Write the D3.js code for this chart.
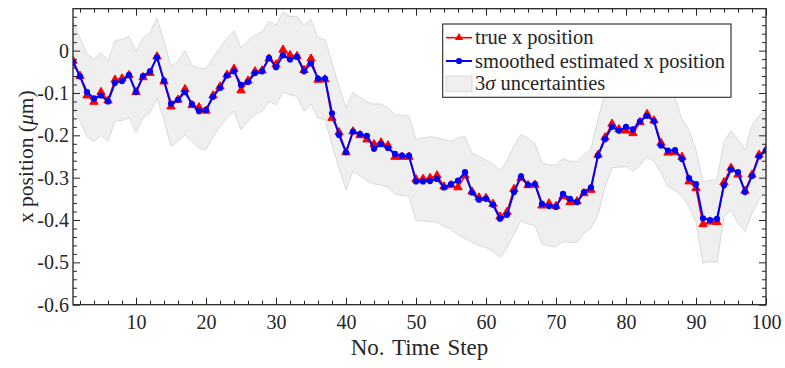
<!DOCTYPE html>
<html><head><meta charset="utf-8">
<script src="https://cdn.jsdelivr.net/npm/d3@7"></script>
<style>
body{margin:0;background:#fff}
svg{display:block}
text{font-family:"Liberation Serif","Times New Roman",serif;fill:#262626}
</style>
</head><body>
<svg id="c" width="785" height="368"></svg>
<script>
// ---- data ----
const steps = d3.range(1, 101);
const trueX = [
-0.024,-0.060,-0.106,-0.121,-0.098,-0.118,-0.069,-0.066,-0.058,-0.098,
-0.063,-0.053,-0.014,-0.073,-0.132,-0.116,-0.091,-0.129,-0.134,-0.142,
-0.106,-0.085,-0.057,-0.043,-0.094,-0.071,-0.049,-0.047,-0.019,-0.033,
 0.002,-0.011,-0.013,-0.046,-0.019,-0.069,-0.068,-0.159,-0.193,-0.240,
-0.191,-0.200,-0.210,-0.221,-0.217,-0.224,-0.251,-0.251,-0.251,-0.304,
-0.303,-0.301,-0.295,-0.321,-0.318,-0.323,-0.295,-0.333,-0.347,-0.348,
-0.362,-0.392,-0.381,-0.327,-0.301,-0.318,-0.317,-0.366,-0.361,-0.367,
-0.344,-0.358,-0.356,-0.337,-0.329,-0.246,-0.205,-0.173,-0.186,-0.189,
-0.195,-0.169,-0.150,-0.165,-0.218,-0.241,-0.240,-0.251,-0.309,-0.325,
-0.410,-0.404,-0.405,-0.311,-0.277,-0.293,-0.331,-0.293,-0.246,-0.235];
const smoothX = [
-0.027,-0.061,-0.098,-0.113,-0.106,-0.120,-0.076,-0.072,-0.058,-0.098,
-0.060,-0.049,-0.016,-0.071,-0.125,-0.116,-0.098,-0.126,-0.143,-0.140,
-0.109,-0.088,-0.059,-0.049,-0.081,-0.074,-0.053,-0.049,-0.017,-0.039,
-0.011,-0.021,-0.015,-0.049,-0.030,-0.066,-0.066,-0.148,-0.199,-0.240,
-0.191,-0.197,-0.201,-0.232,-0.221,-0.230,-0.244,-0.248,-0.248,-0.309,
-0.309,-0.308,-0.303,-0.323,-0.315,-0.307,-0.287,-0.335,-0.352,-0.350,
-0.364,-0.397,-0.388,-0.334,-0.297,-0.317,-0.315,-0.362,-0.367,-0.369,
-0.338,-0.350,-0.358,-0.334,-0.323,-0.248,-0.209,-0.180,-0.189,-0.180,
-0.186,-0.167,-0.154,-0.167,-0.224,-0.236,-0.235,-0.256,-0.301,-0.315,
-0.396,-0.400,-0.397,-0.318,-0.281,-0.287,-0.334,-0.296,-0.250,-0.236];
const upper3s = [
 0.069, 0.030,-0.008,-0.021,-0.005,-0.025, 0.024, 0.026, 0.034,-0.002,
 0.030, 0.042, 0.077, 0.022,-0.037,-0.025, 0.000,-0.035,-0.041,-0.043,
-0.017, 0.006, 0.030, 0.047, 0.006, 0.024, 0.036, 0.044, 0.069, 0.060,
 0.091, 0.081, 0.081, 0.060, 0.073, 0.030, 0.026,-0.029,-0.084,-0.135,
-0.098,-0.110,-0.121,-0.126,-0.126,-0.135,-0.151,-0.153,-0.155,-0.210,
-0.206,-0.203,-0.206,-0.210,-0.214,-0.206,-0.203,-0.242,-0.250,-0.258,
-0.268,-0.284,-0.260,-0.225,-0.197,-0.208,-0.220,-0.265,-0.270,-0.270,
-0.254,-0.262,-0.262,-0.246,-0.232,-0.163,-0.097,-0.073,-0.073,-0.073,
-0.083,-0.069,-0.050,-0.059,-0.080,-0.097,-0.111,-0.163,-0.187,-0.234,
-0.310,-0.307,-0.305,-0.215,-0.189,-0.210,-0.234,-0.177,-0.154,-0.142];
const lower3s = [
-0.137,-0.167,-0.203,-0.214,-0.200,-0.214,-0.167,-0.165,-0.158,-0.192,
-0.159,-0.147,-0.112,-0.163,-0.226,-0.214,-0.199,-0.214,-0.230,-0.234,
-0.203,-0.179,-0.159,-0.143,-0.187,-0.167,-0.151,-0.143,-0.120,-0.128,
-0.098,-0.104,-0.108,-0.143,-0.126,-0.159,-0.163,-0.222,-0.277,-0.329,
-0.285,-0.295,-0.307,-0.315,-0.317,-0.323,-0.339,-0.342,-0.344,-0.402,
-0.402,-0.404,-0.405,-0.415,-0.421,-0.435,-0.443,-0.452,-0.460,-0.465,
-0.474,-0.488,-0.466,-0.433,-0.401,-0.409,-0.414,-0.456,-0.461,-0.463,
-0.451,-0.453,-0.453,-0.431,-0.419,-0.388,-0.321,-0.277,-0.275,-0.274,
-0.285,-0.270,-0.251,-0.262,-0.289,-0.322,-0.330,-0.344,-0.368,-0.404,
-0.502,-0.498,-0.500,-0.392,-0.376,-0.407,-0.427,-0.384,-0.352,-0.329];
const xMajorTicks = [10,20,30,40,50,60,70,80,90,100];
const xMinorTicks = [2,4,6,8,12,14,16,18,22,24,26,28,32,34,36,38,42,44,46,48,52,54,56,58,62,64,66,68,72,74,76,78,82,84,86,88,92,94,96,98];
const yMajorTicks = [-0.6,-0.5,-0.4,-0.3,-0.2,-0.1,0];
const yTickLabels = ["-0.6","-0.5","-0.4","-0.3","-0.2","-0.1","0"];
const yMinorTicks = [-0.58,-0.56,-0.54,-0.52,-0.48,-0.46,-0.44,-0.42,-0.38,-0.36,-0.34,-0.32,-0.28,-0.26,-0.24,-0.22,-0.18,-0.16,-0.14,-0.12,-0.08,-0.06,-0.04,-0.02,0.02,0.04,0.06,0.08];
const legendLabels = ["true x position","smoothed estimated x position","uncertainties"];

// ---- layout ----
const L = 73, R = 766, T = 8.7, B = 304.7;
const AX = "#262626";
const svg = d3.select("#c");
const x = d3.scaleLinear().domain([1, 100]).range([L, R]);
const y = d3.scaleLinear().domain([-0.6, 0.099]).range([B, T]);

svg.append("defs").append("clipPath").attr("id","pc")
  .append("rect").attr("x",L).attr("y",T).attr("width",R-L).attr("height",B-T);

const plot = svg.append("g").attr("clip-path","url(#pc)");

// 3 sigma band
const band = d3.area().x((d,i)=>x(steps[i])).y0((d,i)=>y(lower3s[i])).y1((d,i)=>y(upper3s[i]));
plot.append("path").datum(steps).attr("d", band)
  .attr("fill","#efefef").attr("stroke","#d9d9d9").attr("stroke-width",1);

// true
const lineT = d3.line().x((d,i)=>x(steps[i])).y(d=>y(d));
plot.append("path").datum(trueX).attr("d", lineT)
  .attr("fill","none").attr("stroke","#ff0000").attr("stroke-width",1.6).attr("stroke-linejoin","round");
const tri = d3.symbol(d3.symbolTriangle).size(30);
plot.selectAll(".tri").data(trueX).join("path")
  .attr("transform",(d,i)=>`translate(${x(steps[i])},${y(d)})`)
  .attr("d", tri).attr("fill","#ff0000").attr("stroke","#ff0000").attr("stroke-width",1);

// smoothed
plot.append("path").datum(smoothX).attr("d", lineT)
  .attr("fill","none").attr("stroke","#0000ff").attr("stroke-width",2).attr("stroke-linejoin","round");
plot.selectAll(".dot").data(smoothX).join("circle")
  .attr("cx",(d,i)=>x(steps[i])).attr("cy",d=>y(d)).attr("r",3.1).attr("fill","#0000ff");

// axes
function style(g){
  g.attr("font-size",null).attr("font-family",null);
  g.select(".domain").remove();
  g.selectAll("line").attr("stroke",AX).attr("stroke-width",1);
  g.selectAll("text").attr("font-size","20px").attr("fill",AX);
}
svg.append("g").attr("transform",`translate(0,${B})`)
  .call(d3.axisBottom(x).tickValues(xMajorTicks).tickSize(-7).tickPadding(10).tickFormat(d3.format("d"))).call(style);
svg.append("g").attr("transform",`translate(0,${B})`)
  .call(d3.axisBottom(x).tickValues(xMinorTicks).tickSize(-4).tickFormat("")).call(style);
svg.append("g").attr("transform",`translate(0,${T})`)
  .call(d3.axisTop(x).tickValues(xMajorTicks).tickSize(-7).tickFormat("")).call(style);
svg.append("g").attr("transform",`translate(0,${T})`)
  .call(d3.axisTop(x).tickValues(xMinorTicks).tickSize(-4).tickFormat("")).call(style);
svg.append("g").attr("transform",`translate(${L},0)`)
  .call(d3.axisLeft(y).tickValues(yMajorTicks).tickSize(-7).tickPadding(4)
    .tickFormat((d,i)=>yTickLabels[i])).call(style);
svg.append("g").attr("transform",`translate(${L},0)`)
  .call(d3.axisLeft(y).tickValues(yMinorTicks).tickSize(-4).tickFormat("")).call(style);
svg.append("g").attr("transform",`translate(${R},0)`)
  .call(d3.axisRight(y).tickValues(yMajorTicks).tickSize(-7).tickFormat("")).call(style);
svg.append("g").attr("transform",`translate(${R},0)`)
  .call(d3.axisRight(y).tickValues(yMinorTicks).tickSize(-4).tickFormat("")).call(style);

svg.append("rect").attr("x",L).attr("y",T).attr("width",R-L).attr("height",B-T)
  .attr("fill","none").attr("stroke",AX).attr("stroke-width",1.3);

// titles
svg.append("text").attr("x",(L+R)/2).attr("y",355).attr("text-anchor","middle")
  .attr("font-size","23px").attr("word-spacing","2px").text("No. Time Step");
const yl = svg.append("text").attr("transform",`translate(33,${(T+B)/2}) rotate(-90)`)
  .attr("text-anchor","middle").attr("font-size","21.5px");
yl.append("tspan").text("x position (");
yl.append("tspan").attr("font-style","italic").text("μ");
yl.append("tspan").text("m)");

// legend
const lg = svg.append("g");
lg.append("rect").attr("x",442.7).attr("y",24).attr("width",288.3).attr("height",73.3)
  .attr("fill","#fff").attr("stroke",AX).attr("stroke-width",1.1);
const rows = [37.7, 61, 83.3];
lg.append("line").attr("x1",446).attr("x2",472).attr("y1",rows[0]).attr("y2",rows[0])
  .attr("stroke","#ff0000").attr("stroke-width",1.6);
lg.append("path").attr("transform",`translate(459,${rows[0]})`).attr("d",tri).attr("fill","#ff0000");
lg.append("line").attr("x1",446).attr("x2",472).attr("y1",rows[1]).attr("y2",rows[1])
  .attr("stroke","#0000ff").attr("stroke-width",2);
lg.append("circle").attr("cx",459).attr("cy",rows[1]).attr("r",3.1).attr("fill","#0000ff");
lg.append("rect").attr("x",446).attr("y",76).attr("width",26).attr("height",15.7)
  .attr("fill","#efefef").attr("stroke","#d9d9d9");
lg.append("text").attr("x",475).attr("y",rows[0]).attr("dy","0.33em").attr("font-size","20.5px")
  .text(legendLabels[0]);
lg.append("text").attr("x",475).attr("y",rows[1]).attr("dy","0.33em").attr("font-size","20.5px")
  .text(legendLabels[1]);
const t3 = lg.append("text").attr("x",475).attr("y",rows[2]).attr("dy","0.33em").attr("font-size","20.5px");
t3.append("tspan").text("3");
t3.append("tspan").attr("font-style","italic").text("σ");
t3.append("tspan").text(" " + legendLabels[2]);
</script>
</body></html>
